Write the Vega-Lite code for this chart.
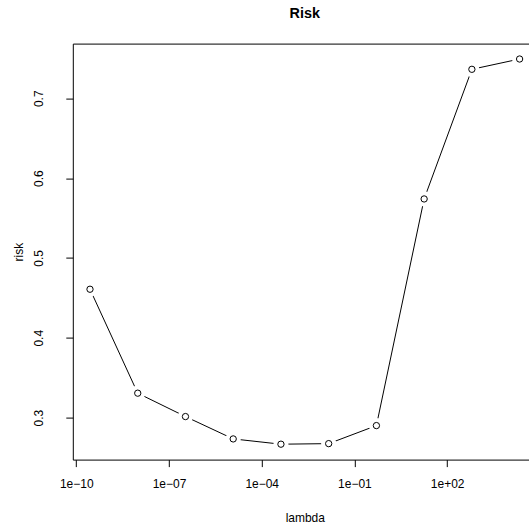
{
  "$schema": "https://vega.github.io/schema/vega-lite/v6.json",
  "autosize": {"type": "none"},
  "width": 464,
  "height": 416,
  "padding": {"left": 72.8, "top": 43.6, "right": 0, "bottom": 66},
  "background": "white",
  "config": {
    "font": "Liberation Sans",
    "view": {"stroke": "black", "strokeWidth": 1},
    "axis": {"domain": false, "grid": false, "tickColor": "black", "tickSize": 7, "tickWidth": 1, "labelColor": "black", "labelFontSize": 12, "titleFontSize": 12, "titleColor": "black", "titleFontWeight": "normal", "labelFont": "Liberation Sans", "titleFont": "Liberation Sans"}
  },
  "title": {"text": "Risk", "anchor": "middle", "frame": "group", "fontSize": 14.4, "fontWeight": "bold", "font": "Liberation Sans", "color": "black", "baseline": "alphabetic", "offset": 11},
  "data": {"values": [
    {"lambda": 2.789e-10, "risk": 0.4608},
    {"lambda": 9.767e-9, "risk": 0.3306},
    {"lambda": 3.42e-7, "risk": 0.3013},
    {"lambda": 1.197e-5, "risk": 0.2733},
    {"lambda": 4.19e-4, "risk": 0.2667},
    {"lambda": 0.01467, "risk": 0.2674},
    {"lambda": 0.5134, "risk": 0.2900},
    {"lambda": 17.97, "risk": 0.5739},
    {"lambda": 629.3, "risk": 0.7363},
    {"lambda": 22026, "risk": 0.7492}
  ]},
  "encoding": {
    "x": {"field": "lambda", "type": "quantitative",
      "scale": {"type": "log", "domain": [7.75e-11, 79206], "nice": false},
      "axis": {"title": "lambda", "values": [1e-10, 1e-7, 1e-4, 1e-1, 100], "labelPadding": 12,
        "labelExpr": "datum.value < 1e-9 ? '1e−10' : datum.value < 1e-6 ? '1e−07' : datum.value < 1e-3 ? '1e−04' : datum.value < 1 ? '1e−01' : '1e+02'",
        "titleX": 232, "titleY": 62, "titleBaseline": "alphabetic", "labelFlush": false, "labelOverlap": false}},
    "y": {"field": "risk", "type": "quantitative",
      "scale": {"domain": [0.2474, 0.7685], "nice": false, "zero": false},
      "axis": {"title": "risk", "values": [0.3, 0.4, 0.5, 0.6, 0.7], "labelAngle": -90, "labelAlign": "center", "labelBaseline": "bottom", "labelPadding": 20,
        "titleAngle": -90, "titleX": -50, "titleY": 208, "titleBaseline": "alphabetic", "titleAlign": "center", "labelFlush": false, "labelOverlap": false}}
  },
  "layer": [
    {"mark": {"type": "line", "color": "black", "strokeWidth": 1}},
    {"mark": {"type": "point", "shape": "circle", "filled": true, "color": "white", "size": 230, "opacity": 1}},
    {"mark": {"type": "point", "shape": "circle", "filled": false, "color": "black", "size": 40, "strokeWidth": 1, "opacity": 1}}
  ]
}
